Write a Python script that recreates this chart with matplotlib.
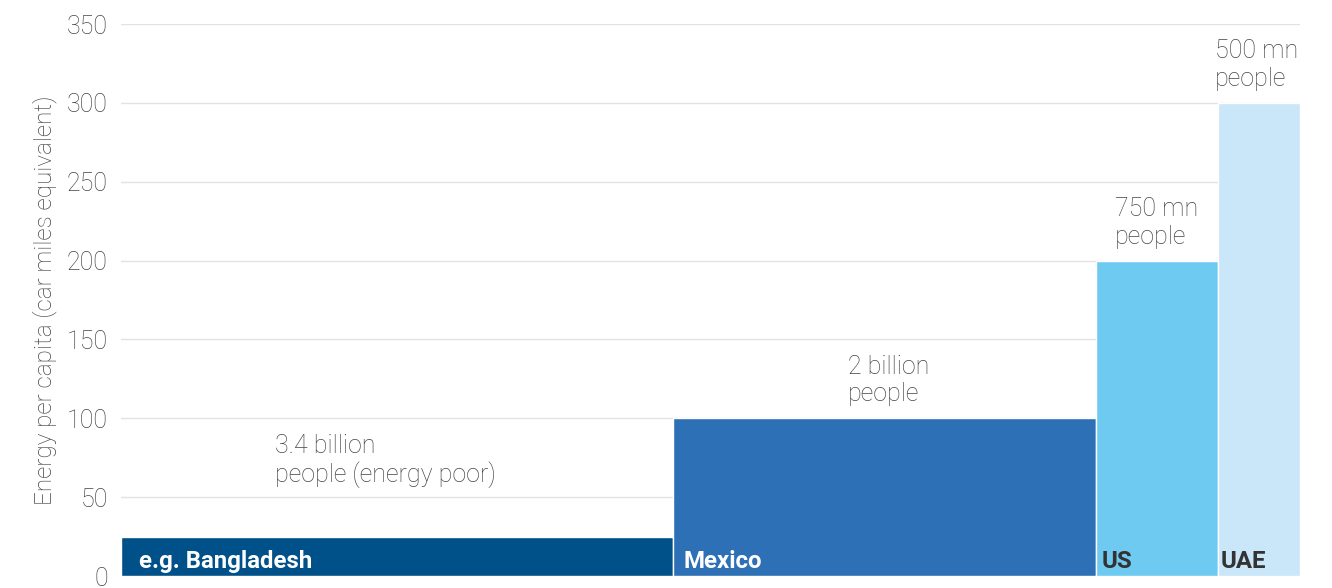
import matplotlib.pyplot as plt
import numpy as np

plt.rcParams['font.family'] = ['Roboto', 'DejaVu Sans']

# Data
countries = ['e.g. Bangladesh', 'Mexico', 'US', 'UAE']
energy = [25, 100, 200, 300]            # car miles equivalent per capita
widths = [552, 422, 122, 82]            # bar widths as drawn (population blocks)
pop_labels = ['3.4 billion\npeople (energy poor)', '2 billion\npeople',
              '750 mn\npeople', '500 mn\npeople']
colors = ['#00508a', '#2d70b6', '#6ecaf1', '#c9e7f8']
name_colors = ['white', 'white', '#333333', '#333333']

# label placement (offsets from bar left / bar top)
name_dx = [18, 10, 6, 3]
pop_dx = [154, 174, 19, -3]
pop_dy = [48, 24, 24, 24]

lefts = np.concatenate([[0], np.cumsum(widths)[:-1]])
text_grey = '#444444'

fig = plt.figure(figsize=(13.32, 5.88), dpi=100)
ax = fig.add_axes([121 / 1332, 12 / 588, (1300 - 121) / 1332, (576 - 24) / 588])

ax.bar(lefts, energy, width=widths, align='edge', color=colors,
       edgecolor='white', linewidth=1, zorder=2)

for i in range(len(countries)):
    ax.text(lefts[i] + name_dx[i], 9, countries[i], color=name_colors[i],
            fontsize=17.3, fontweight='bold', va='center', ha='left', zorder=3)
    ax.text(lefts[i] + pop_dx[i], energy[i] + pop_dy[i], pop_labels[i],
            color=text_grey, fontsize=18, fontweight='light', va='center',
            ha='left', linespacing=1.2, zorder=3)

ax.set_xlim(0, sum(widths))
ax.set_ylim(0, 350)
ax.set_yticks(np.arange(0, 351, 50))
ax.set_xticks([])
ax.grid(axis='y', color='#e2e2e2', linewidth=1, zorder=0)
ax.set_axisbelow(True)
for s in ax.spines.values():
    s.set_visible(False)
ax.tick_params(axis='y', length=0, pad=9.5, labelsize=18, labelcolor=text_grey)
for lbl in ax.get_yticklabels():
    lbl.set_fontweight('light')
ax.set_ylabel('Energy per capita (car miles equivalent)', fontsize=17.5,
              color=text_grey, fontweight='light', labelpad=7)

fig.savefig('out.png', dpi=100)
